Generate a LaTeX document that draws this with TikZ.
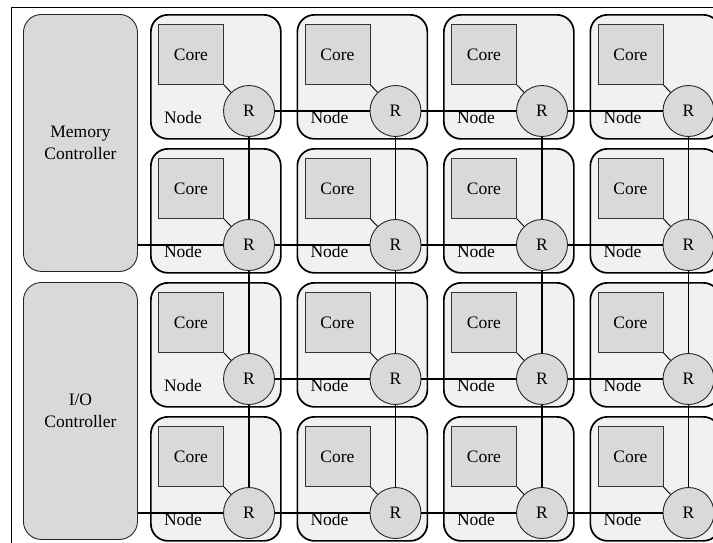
\documentclass[tikz,border=0pt]{standalone}
\usepackage{fontspec}
\setmainfont{Liberation Serif}
\definecolor{tilefill}{HTML}{F1F1F1}
\definecolor{partfill}{HTML}{D9D9D9}
\begin{document}
\begin{tikzpicture}[x=1pt,y=-1pt,
  every node/.style={font=\fontsize{17.5}{22}\selectfont},
  tile/.style={draw=black, line width=1.7pt, fill=tilefill, rounded corners=17pt,
    minimum width=130pt, minimum height=124pt, anchor=north west, inner sep=0pt},
  corebox/.style={draw=black!80, line width=0.9pt, fill=partfill,
    minimum width=65pt, minimum height=60pt, anchor=north west, inner sep=0pt},
  router/.style={circle, draw=black!85, line width=0.9pt, fill=partfill,
    minimum size=51pt, inner sep=0pt},
  ctrl/.style={draw=black!85, line width=0.9pt, fill=partfill, rounded corners=18pt,
    minimum width=114pt, anchor=north west, inner sep=0pt, align=center},
  link/.style={draw=black, line width=1.3pt}]
\useasboundingbox (0,0) rectangle (713,542);
\clip (0,0) rectangle (713,542);

% outer frame
\draw[line width=0.9pt] (11,560) -- (11,7) -- (730,7);

% controllers
\node[ctrl, minimum height=257pt] (mc) at (23,14) {};
\node[align=center] at (mc.center) {Memory\\Controller};
\node[ctrl, minimum height=257pt] (io) at (23,282) {};
\node[align=center] at (io.center) {I/O\\Controller};

% tiles: core + router per node
\foreach \r in {0,...,3} {
  \foreach \c in {0,...,3} {
    \pgfmathsetmacro{\tx}{150+146.5*\c}
    \pgfmathsetmacro{\ty}{14+134*\r}
    \node[tile] (t-\r-\c) at (\tx,\ty) {};
    \node[corebox] (c-\r-\c) at (\tx+8,\ty+10) {Core};
    \node (n-\r-\c) at (\tx+33,\ty+104) {Node};
    \node[router] (r-\r-\c) at (\tx+99,\ty+97) {R};
    \draw[line width=0.9pt] (c-\r-\c.south east) -- (r-\r-\c);
  }
}

% mesh links
\foreach \r in {0,...,3} {
  \foreach \c/\cn in {0/1,1/2,2/3} {
    \draw[link] (r-\r-\c) -- (r-\r-\cn);
  }
}
\foreach \c in {0,...,3} {
  \foreach \r/\rn in {0/1,1/2,2/3} {
    \draw[link] (r-\r-\c) -- (r-\rn-\c);
  }
}

% controller links
\draw[link] (r-1-0 -| mc.east) -- (r-1-0);
\draw[link] (r-3-0 -| io.east) -- (r-3-0);
\end{tikzpicture}
\end{document}
